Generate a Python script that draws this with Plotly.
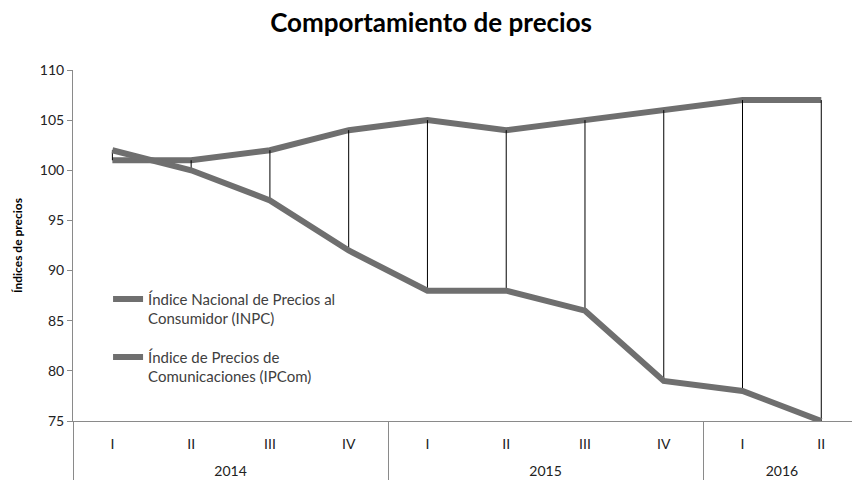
import plotly.graph_objects as go

years = ["2014"] * 4 + ["2015"] * 4 + ["2016"] * 2
quarters = ["I", "II", "III", "IV", "I", "II", "III", "IV", "I", "II"]
inpc = [101, 101, 102, 104, 105, 104, 105, 106, 107, 107]
ipcom = [102, 100, 97, 92, 88, 88, 86, 79, 78, 75]

name_inpc = "Índice Nacional de Precios al<br>Consumidor (INPC)"
name_ipcom = "Índice de Precios de<br>Comunicaciones (IPCom)"
title = "Comportamiento de precios"
ytitle = "Índices de precios"

up = [max(0, a - b) for a, b in zip(inpc, ipcom)]
down = [max(0, b - a) for a, b in zip(inpc, ipcom)]
# quarter labels padded with an empty second line to space the year row
quarter_labels = [q + "<br>\u00a0" for q in quarters]

FONT = "Lato"
LINE = "#6f6f6f"
AX = "#8a8a8a"

fig = go.Figure()
fig.add_trace(go.Scatter(
    x=[years, quarter_labels], y=inpc, name=name_inpc, mode="lines",
    legendgroup="a", hoverinfo="skip",
    line=dict(color=LINE, width=6),
))
fig.add_trace(go.Scatter(
    x=[years, quarter_labels], y=ipcom, name=name_ipcom, mode="lines",
    legendgroup="b", hoverinfo="skip",
    line=dict(color=LINE, width=6),
    error_y=dict(type="data", symmetric=False, array=up, arrayminus=down,
                 color="black", thickness=1, width=0),
))

fig.update_layout(
    width=852, height=484,
    margin=dict(l=73, r=0, t=70, b=63),
    paper_bgcolor="white", plot_bgcolor="white",
    font=dict(family=FONT, size=13, color="#222222"),
    title=dict(text="<b>" + title + "</b>", x=0.506, xanchor="center",
               y=0.953, yanchor="middle",
               font=dict(family=FONT, size=26, color="black")),
    showlegend=True,
    legend=dict(x=0.045, y=0.394, xanchor="left", yanchor="top",
                bgcolor="rgba(0,0,0,0)", valign="top",
                font=dict(family=FONT, size=15, color="#404040"),
                itemwidth=30, tracegroupgap=16),
    xaxis=dict(
        type="multicategory", range=[-0.5, 9.39], autorange=False,
        showline=True, linecolor=AX, linewidth=1,
        ticks="", showgrid=False, automargin=False,
        showdividers=True, dividercolor=AX, dividerwidth=1,
        ticklabelstandoff=10,
        tickfont=dict(family=FONT, size=14, color="#222222"),
    ),
    yaxis=dict(
        range=[75, 110], dtick=5, autorange=False,
        showline=True, linecolor=AX, linewidth=1,
        ticks="outside", ticklen=5, tickcolor=AX,
        showgrid=False, zeroline=False, automargin=False,
        tickfont=dict(family=FONT, size=14, color="#222222"),
        title=dict(text="\u00a0" * 9 + "<b>" + ytitle + "</b>", standoff=14,
                   font=dict(family=FONT, size=12, color="black")),
    ),
)

fig.write_html("out.html", config={"displayModeBar": False},
               post_script="document.body.style.margin='0';")
